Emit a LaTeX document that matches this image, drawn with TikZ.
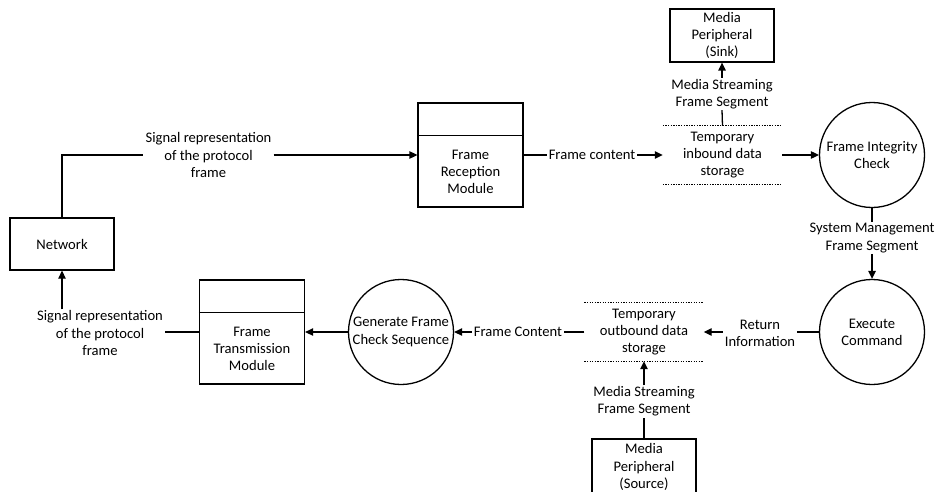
\documentclass[tikz,border=0pt]{standalone}
\usepackage{fontspec}
\setmainfont{Carlito}
\usetikzlibrary{arrows.meta}
\begin{document}
\begin{tikzpicture}[x=1pt,y=-1pt,
  every node/.style={font=\fontsize{14.6}{17.2}\selectfont},
  flow/.style={line width=1.3pt},
  arr/.style={flow,-{Triangle[length=8pt,width=7.5pt]}},
  lbl/.style={align=center,inner xsep=2pt,inner ysep=1pt},
  entity/.style={draw,line width=1.3pt,minimum width=104pt,minimum height=53pt,inner sep=0pt,align=center},
  module/.style={draw,line width=1.3pt,minimum width=105pt,minimum height=104pt,inner sep=0pt},
  proc/.style={draw,circle,line width=1.3pt,minimum size=105pt,inner sep=0pt,align=center},
  store/.style={minimum width=119pt,minimum height=58pt,inner sep=0pt,align=center},
  storeline/.style={line width=1pt,dash pattern=on 1.3pt off 1.3pt}
]
\useasboundingbox (0,0) rectangle (936,492);

% external entities
\node[entity,minimum height=52pt] (net) at (62,244) {Network};
\node[entity] (sink) at (722,35.5) {Media\\Peripheral\\(Sink)};
\node[entity,minimum height=56pt] (src) at (644,467) {Media\\Peripheral\\(Source)};

% modules with header band
\node[module] (frm) at (470.5,155) {};
\draw[flow] ([yshift=-33pt]frm.north west) -- ([yshift=-33pt]frm.north east);
\node[align=center] (frmtxt) at (470.5,172) {Frame\\Reception\\Module};

\node[module] (frt) at (252,332) {};
\draw[flow] ([yshift=-33pt]frt.north west) -- ([yshift=-33pt]frt.north east);
\node[align=center] (frttxt) at (252,349) {Frame\\Transmission\\Module};

% processes
\node[proc] (fic) at (872,155) {Frame Integrity\\Check};
\node[proc] (exe) at (872,332) {Execute\\Command};
\node[proc] (gen) at (401,332) {Generate Frame\\Check Sequence};

% data stores
\node[store] (sin) at (722.5,155) {Temporary\\inbound data\\storage};
\draw[storeline] (sin.north west) -- (sin.north east);
\draw[storeline] (sin.south west) -- (sin.south east);
\node[store] (sout) at (644,332) {Temporary\\outbound data\\storage};
\draw[storeline] (sout.north west) -- (sout.north east);
\draw[storeline] (sout.south west) -- (sout.south east);

% flow labels
\node[lbl] (l1) at (208.5,155) {Signal representation\\of the protocol\\frame};
\node[lbl] (l2) at (592,155) {Frame content};
\node[lbl] (l3) at (722,94) {Media Streaming\\Frame Segment};
\node[lbl] (l4) at (872,238) {System Management\\Frame Segment};
\node[lbl] (l5) at (760,333) {Return\\Information};
\node[lbl] (l6) at (518,332) {Frame Content};
\node[lbl] (l7) at (644,401.5) {Media Streaming\\Frame Segment};
\node[lbl] (l8) at (100,333) {Signal representation\\of the protocol\\frame};

% flows
\draw[flow] (net.north) |- (l1.west);
\draw[arr] (l1.east) -- (frm.west);
\draw[flow] (frm.east) -- (l2.west);
\draw[arr] (l2.east) -- (sin.west);
\draw[arr] (sin.east) -- (fic.west);
\draw[flow] (sin.north) -- (l3.south);
\draw[arr] (l3.north) -- (sink.south);
\draw[flow] (fic.south) -- (l4.north);
\draw[arr] (l4.south) -- (exe.north);
\draw[flow] (exe.west) -- (l5.east |- exe.west);
\draw[arr] (l5.west |- sout.east) -- (sout.east);
\draw[flow] (sout.west) -- (l6.east);
\draw[arr] (l6.west) -- (gen.east);
\draw[flow] (src.north) -- (l7.south);
\draw[arr] (l7.north) -- (sout.south);
\draw[arr] (gen.west) -- (frt.east);
\draw[flow] (frt.west) -- (l8.east |- frt.west);
\draw[arr] (l8.north -| net.south) -- (net.south);
\end{tikzpicture}
\end{document}
